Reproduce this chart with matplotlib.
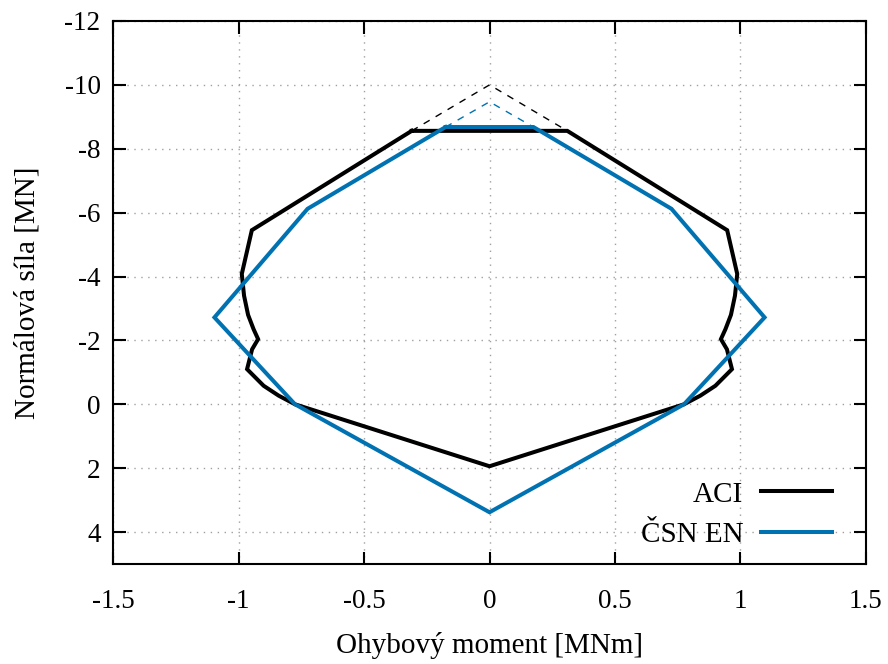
import matplotlib
matplotlib.use("Agg")
import matplotlib.pyplot as plt
from matplotlib.lines import Line2D

plt.rcParams['font.family'] = ['Liberation Serif', 'DejaVu Serif']
plt.rcParams['axes.unicode_minus'] = False

# ACI interaction diagram, right half (moment M [MNm], normal force N [MN]), top to bottom
aci_m_half = [0.31, 0.947, 0.987, 0.978, 0.962, 0.94, 0.922, 0.946, 0.966, 0.90, 0.84, 0.775, 0.0]
aci_n_half = [-8.56, -5.45, -4.08, -3.40, -2.80, -2.35, -2.04, -1.72, -1.10, -0.58, -0.27, 0.0, 1.94]
aci_peak = [0.0, -10.0]

# ČSN EN interaction diagram, right half
csn_m_half = [0.175, 0.725, 1.096, 0.775, 0.0]
csn_n_half = [-8.68, -6.12, -2.72, 0.0, 3.38]
csn_peak = [0.0, -9.47]

x_ticks = [-1.5, -1, -0.5, 0, 0.5, 1, 1.5]
x_tick_labels = ['-1.5', '-1', '-0.5', '0', '0.5', '1', '1.5']
y_ticks = [-12, -10, -8, -6, -4, -2, 0, 2, 4]
y_tick_labels = ['-12', '-10', '-8', '-6', '-4', '-2', '0', '2', '4']

BLUE = '#0072b2'


def closed(m_half, n_half):
    # left side top->bottom, then right side bottom->top, closed at the top
    m_full = [-v for v in m_half] + [v for v in reversed(m_half)]
    n_full = list(n_half) + list(reversed(n_half))
    m_full.append(m_full[0])
    n_full.append(n_full[0])
    return m_full, n_full


fig = plt.figure(figsize=(8.88, 6.64), dpi=100)
ax = fig.add_axes([0.1273, 0.1506, 0.9752 - 0.1273, 0.9684 - 0.1506])

# dashed caps up to the theoretical pure-compression point
ax.plot([-aci_m_half[0], aci_peak[0], aci_m_half[0]],
        [aci_n_half[0], aci_peak[1], aci_n_half[0]],
        color='black', lw=1.0, ls=(0, (5, 5)), zorder=2)
ax.plot([-csn_m_half[0], csn_peak[0], csn_m_half[0]],
        [csn_n_half[0], csn_peak[1], csn_n_half[0]],
        color=BLUE, lw=1.0, ls=(0, (5, 5)), zorder=2)

am, an = closed(aci_m_half, aci_n_half)
cm, cn = closed(csn_m_half, csn_n_half)
ax.plot(am, an, color='black', lw=2.9, solid_joinstyle='miter', zorder=3)
ax.plot(cm, cn, color=BLUE, lw=2.9, solid_joinstyle='miter', zorder=4)

ax.set_xlim(-1.5, 1.5)
ax.set_ylim(5, -12)
ax.set_xticks(x_ticks)
ax.set_xticklabels(x_tick_labels)
ax.set_yticks(y_ticks)
ax.set_yticklabels(y_tick_labels)

ax.grid(True, color='#a0a0a0', lw=1.0, ls=(0, (1, 4)))
ax.set_axisbelow(True)

ax.tick_params(direction='in', length=9, width=1.5, labelsize=19.5,
               top=True, right=True, pad=9)
ax.tick_params(axis='x', pad=18)
for s in ax.spines.values():
    s.set_linewidth(1.5)

ax.set_xlabel('Ohybový moment [MNm]', fontsize=21, labelpad=13)
ax.set_ylabel('Normálová síla [MN]', fontsize=21, labelpad=17)

handles = [Line2D([], [], color='black', lw=2.9),
           Line2D([], [], color=BLUE, lw=2.9)]
ax.legend(handles, ['ACI', 'ČSN EN'], loc='lower right',
          bbox_to_anchor=(0.998, -0.03), frameon=False,
          markerfirst=False, fontsize=21, handlelength=2.45,
          borderpad=0.3, borderaxespad=0.8, labelspacing=0.49,
          handletextpad=0.6)

fig.savefig('out.png', dpi=100)
